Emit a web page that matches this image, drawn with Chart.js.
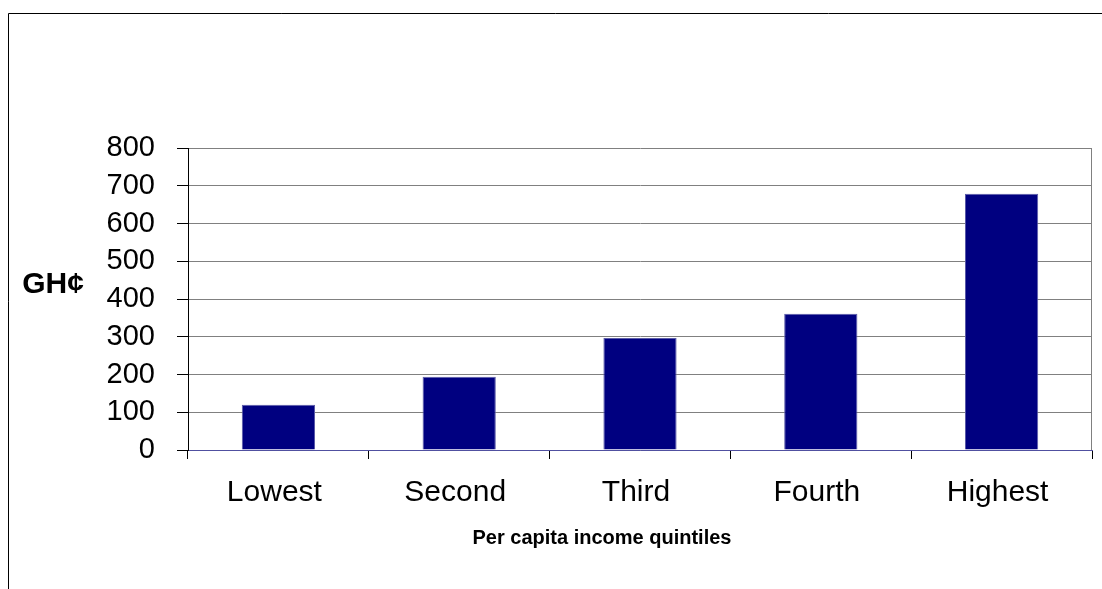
<!DOCTYPE html>
<html>
<head>
<meta charset="utf-8">
<script src="https://cdn.jsdelivr.net/npm/chart.js@4"></script>
<style>
  html, body { margin: 0; padding: 0; background: #fff; }
  #wrap { width: 1102px; height: 589px; }
</style>
</head>
<body>
<div id="wrap"><canvas id="myChart" width="1102" height="589"></canvas></div>
<script>
const quintiles = ['Lowest', 'Second', 'Third', 'Fourth', 'Highest'];
const spending = [120, 194, 297, 361, 679];
const yTicks = [0, 100, 200, 300, 400, 500, 600, 700, 800];

const FONT = "'Liberation Sans', Arial, sans-serif";

// outer frame, plot border and the two axis titles
const extras = {
  id: 'extras',
  beforeDraw(chart) {
    const c = chart.ctx;
    c.save();
    c.strokeStyle = '#000';
    c.lineWidth = 1;
    c.beginPath();
    c.moveTo(8.5, 589);
    c.lineTo(8.5, 13.5);
    c.lineTo(1102, 13.5);
    c.stroke();
    c.restore();
  },
  afterDraw(chart) {
    const c = chart.ctx;
    const a = chart.chartArea;
    c.save();
    c.strokeStyle = '#808080';
    c.lineWidth = 1;
    c.beginPath();
    c.moveTo(Math.round(a.right) - 0.5, a.top);
    c.lineTo(Math.round(a.right) - 0.5, a.bottom);
    c.stroke();

    c.fillStyle = '#000';
    c.textAlign = 'center';
    c.textBaseline = 'middle';
    c.font = 'bold 30px ' + FONT;
    c.fillText('GH\u00a2', 53, 285);
    c.font = 'bold 20px ' + FONT;
    c.fillText('Per capita income quintiles', 602, 538);
    c.restore();
  }
};

new Chart(document.getElementById('myChart'), {
  type: 'bar',
  data: {
    labels: quintiles,
    datasets: [{
      data: spending,
      backgroundColor: '#000080',
      borderColor: '#5a5aa8',
      borderWidth: 1,
      categoryPercentage: 1,
      barPercentage: 0.405
    }]
  },
  options: {
    responsive: false,
    animation: false,
    devicePixelRatio: 1,
    layout: { padding: { top: 148, right: 10, left: 0, bottom: 0 } },
    plugins: { legend: { display: false }, tooltip: { enabled: false } },
    scales: {
      x: {
        afterFit(scale) { scale.height = 139; },
        border: { color: '#5050a0', width: 1 },
        grid: {
          offset: true,
          drawOnChartArea: false,
          drawTicks: true,
          tickLength: 9,
          tickColor: '#000'
        },
        ticks: {
          color: '#000',
          padding: 16,
          labelOffset: -4,
          font: { family: FONT, size: 30 }
        }
      },
      y: {
        min: 0,
        max: 800,
        afterFit(scale) { scale.width = 188; },
        afterBuildTicks(scale) { scale.ticks = yTicks.map(v => ({ value: v })); },
        border: { color: '#000', width: 1 },
        grid: {
          color: '#808080',
          tickColor: '#000',
          tickLength: 11
        },
        ticks: {
          autoSkip: false,
          color: '#000',
          padding: 22,
          font: { family: FONT, size: 29 }
        }
      }
    }
  },
  plugins: [extras]
});
</script>
</body>
</html>
